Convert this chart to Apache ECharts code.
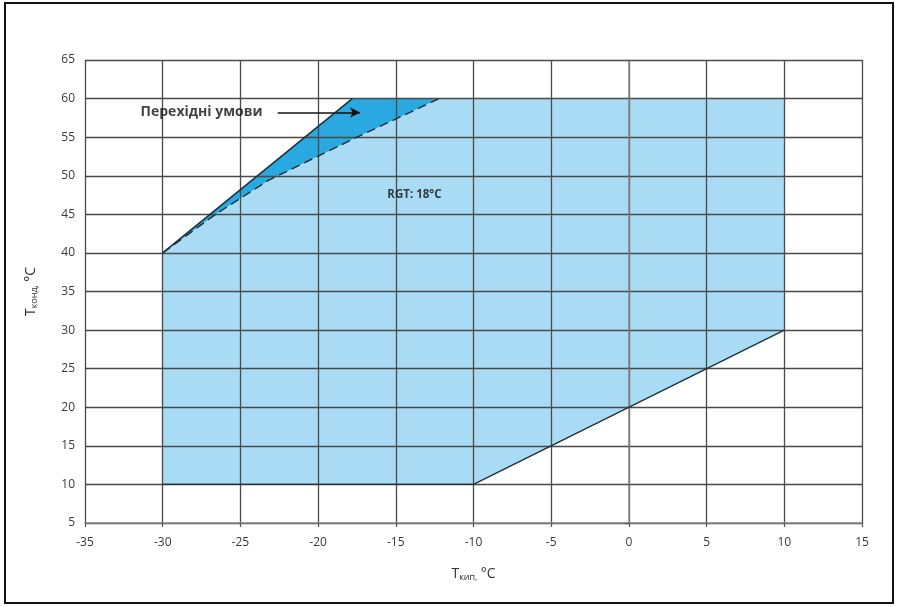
<!DOCTYPE html>
<html>
<head>
<meta charset="utf-8">
<script src="https://cdn.jsdelivr.net/npm/echarts@6/dist/echarts.min.js"></script>
<style>
html,body{margin:0;padding:0;background:#fff;}
#c{width:904px;height:607px;}
</style>
</head>
<body>
<div id="c"></div>
<script>
// ---- data ----
const xTicks = [-35, -30, -25, -20, -15, -10, -5, 0, 5, 10, 15];
const yTicks = [5, 10, 15, 20, 25, 30, 35, 40, 45, 50, 55, 60, 65];
// operating envelope (RGT 18°C)
const lightRegion = [[-30,10],[-10,10],[10,30],[10,60],[-12.2,60],[-17.5,55],[-23.2,49.4],[-26.6,45],[-30,40]];
// transient conditions zone
const darkRegion = [[-30,40],[-17.8,60],[-12.2,60],[-17.5,55],[-23.2,49.4],[-26.6,45]];
const dashedBoundary = [[-30,40],[-26.6,45],[-23.2,49.4],[-17.5,55],[-12.2,60]];
const solidBoundary = [[-30,40],[-17.8,60]];
const lowerBoundary = [[-30,10],[-10,10],[10,30]];
const transientLabel = { text: 'Перехідні умови', at: [-27.5, 58.2] };
const transientArrow = [[-22.6, 58.2], [-17.3, 58.2]];
const rgtLabel = { text: 'RGT: 18°C', at: [-13.8, 47.5] };

const chart = echarts.init(document.getElementById('c'), null, {renderer:'canvas'});

function polygonSeries(points, color, z) {
  return {
    type: 'custom',
    z: z,
    silent: true,
    data: [0],
    renderItem: function (params, api) {
      const pts = points.map(p => api.coord(p));
      return { type: 'polygon', shape: { points: pts }, style: { fill: color, stroke: 'none' } };
    }
  };
}

const font = '"Open Sans", "Liberation Sans", sans-serif';

chart.setOption({
  animation: false,
  backgroundColor: '#fff',
  grid: { left: 85, right: 42, top: 60, bottom: 84, containLabel: false },
  xAxis: {
    type: 'value', min: -35, max: 15, interval: 5,
    axisLine: { show: true, lineStyle: { color: '#8a8a8a', width: 1.5 } },
    axisTick: { show: true, length: 4, lineStyle: { color: '#555', width: 1.2 } },
    axisLabel: { color: '#3a3a3a', fontSize: 12, fontFamily: font, margin: 14 },
    splitLine: { show: true, lineStyle: { color: '#4a4a4a', width: 1.3 } },
    name: '{t|T}{s|кип,} {t|°C}',
    nameLocation: 'middle', nameGap: 44,
    nameTextStyle: { rich: {
      t: { fontSize: 14, color: '#333', fontFamily: font },
      s: { fontSize: 9, color: '#333', fontFamily: font, verticalAlign: 'bottom', padding: [6,0,0,0] }
    } }
  },
  yAxis: {
    type: 'value', min: 5, max: 65, interval: 5,
    axisLine: { show: true, lineStyle: { color: '#8a8a8a', width: 1.5 } },
    axisTick: { show: true, length: 4, lineStyle: { color: '#555', width: 1.2 } },
    axisLabel: { color: '#3a3a3a', fontSize: 12, fontFamily: font, margin: 10 },
    splitLine: { show: true, lineStyle: { color: '#4a4a4a', width: 1.3 } },
    name: '{t|T}{s|конд,} {t|°C}',
    nameLocation: 'middle', nameGap: 46, nameRotate: 90,
    nameTextStyle: { rich: {
      t: { fontSize: 14, color: '#333', fontFamily: font },
      s: { fontSize: 9, color: '#333', fontFamily: font, padding: [6,0,0,0] }
    } }
  },
  graphic: [
    { type: 'rect', shape: { x: 5, y: 3, width: 888, height: 600 }, style: { fill: 'none', stroke: '#111', lineWidth: 2 }, z: 100 }
  ],
  series: [
    polygonSeries(lightRegion, '#a9dcf4', -1),
    polygonSeries(darkRegion, '#2aa9e0', -1),
    {
      type: 'line', data: dashedBoundary, symbol: 'none', z: 5, silent: true,
      lineStyle: { color: '#1d2f3c', width: 1.4, type: [9, 5] }
    },
    {
      type: 'line', data: solidBoundary, symbol: 'none', z: 5, silent: true,
      lineStyle: { color: '#1d2f3c', width: 1.5 }
    },
    {
      type: 'line', data: lowerBoundary, symbol: 'none', z: 5, silent: true,
      lineStyle: { color: '#1d2f3c', width: 1.3 }
    },
    {
      type: 'scatter', symbolSize: 0, z: 10, silent: true,
      data: [
        { value: transientLabel.at.concat([transientLabel.text]), label: { fontSize: 14 } },
        { value: rgtLabel.at.concat([rgtLabel.text]), label: { fontSize: 11.5 } }
      ],
      label: {
        show: true, position: 'inside',
        formatter: p => p.value[2],
        color: '#111', fontWeight: 'bold', fontFamily: font
      },
      markLine: {
        silent: true, symbol: ['none', 'arrow'], symbolSize: [8, 10],
        lineStyle: { color: '#111', width: 1.5, type: 'solid' },
        label: { show: false },
        data: [[{ coord: transientArrow[0] }, { coord: transientArrow[1] }]]
      }
    }
  ]
});
</script>
</body>
</html>
